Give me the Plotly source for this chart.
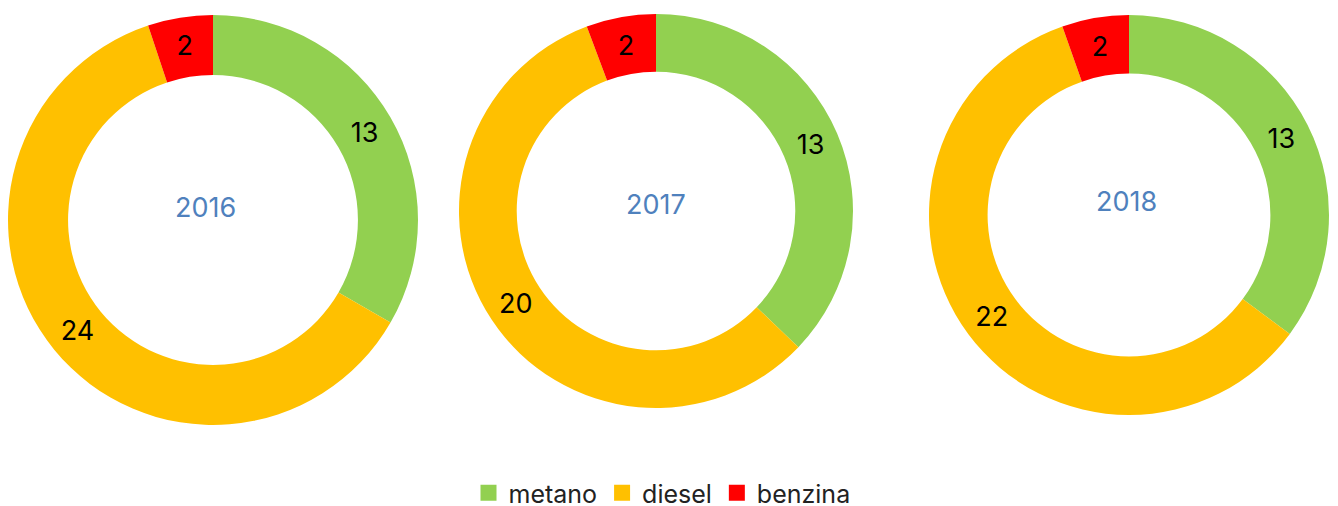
"""Fuel type donuts per year."""

import plotly.graph_objects as go

FUELS = ["metano", "diesel", "benzina"]
COLORS = ["#92D050", "#FFC000", "#FF0000"]

YEARS = ["2016", "2017", "2018"]
VALUES_2016 = [13, 24, 2]
VALUES_2017 = [13, 20, 2]
VALUES_2018 = [13, 22, 2]

W, H = 1338, 506
PAGE_OFF = 8  # browser body margin
FONT = "Inter, Noto Sans, sans-serif"

# pixel boxes on the page (left, top, right, bottom) for each donut
boxes = [(8, 15, 418, 425), (459, 14, 853, 408), (929, 15, 1329, 415)]
year_pos = [(205, 208), (656, 204), (1126, 201)]


def px_x(x):
    return (x - PAGE_OFF) / W


def px_y(y):
    return 1 - (y - PAGE_OFF) / H


fig = go.Figure()
for year, values, (l, t, r, b) in zip(YEARS, [VALUES_2016, VALUES_2017, VALUES_2018], boxes):
    fig.add_trace(
        go.Pie(
            labels=FUELS,
            values=values,
            name=year,
            hole=0.707,
            sort=False,
            direction="clockwise",
            rotation=0,
            marker=dict(colors=COLORS),
            texttemplate="%{value}",
            textposition="inside",
            insidetextorientation="horizontal",
            textfont=dict(color="black", size=27, family=FONT),
            domain=dict(x=[px_x(l), px_x(r)], y=[px_y(b), px_y(t)]),
            showlegend=False,
            hoverinfo="label+value",
        )
    )

# legend entries with larger square swatches
for fuel, color in zip(FUELS, COLORS):
    fig.add_trace(
        go.Scatter(
            x=[None], y=[None], mode="markers", name=fuel,
            marker=dict(symbol="square", size=18, color=color),
        )
    )

for year, (x, y) in zip(YEARS, year_pos):
    fig.add_annotation(
        x=px_x(x), y=px_y(y), xref="paper", yref="paper",
        xanchor="center", yanchor="middle",
        text=year, showarrow=False,
        font=dict(color="#4F81BD", size=27, family=FONT),
    )

fig.update_layout(
    width=W,
    height=H,
    margin=dict(l=0, r=0, t=0, b=0, autoexpand=False),
    paper_bgcolor="white",
    plot_bgcolor="white",
    font=dict(family=FONT, color="#222222"),
    xaxis=dict(visible=False),
    yaxis=dict(visible=False),
    legend=dict(
        orientation="h",
        x=px_x(662), xanchor="center",
        y=px_y(493), yanchor="middle",
        font=dict(size=25, family=FONT, color="#222222"),
        itemwidth=30,
    ),
)

fig.write_html("out.html")
